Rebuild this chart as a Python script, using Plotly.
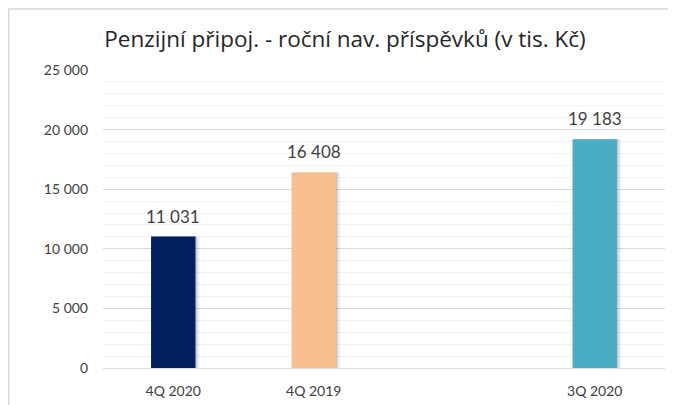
import plotly.graph_objects as go

categories = ["4Q 2020", "4Q 2019", " ", "3Q 2020"]
values = [11031, 16408, None, 19183]
bar_colors = ["#002060", "#F8BF8E", "#FFFFFF", "#4BACC6"]
y_tick_vals = [0, 5000, 10000, 15000, 20000, 25000]
y_tick_text = ["0", "5 000", "10 000", "15 000", "20 000", "25 000"]
title_text = "Penzijní připoj. - roční nav. příspěvků (v tis. Kč)"

FONT = "Lato"
BAR_W = 0.316

# page body adds an 8px margin; figure is sized so the whole page is 676x405
W, H = 668, 397
ML, MR, MT, MB = 95, 11, 62, 37
PW, PH = W - ML - MR, H - MT - MB

fig = go.Figure()

# soft shadow layers (same data, shifted slightly right)
for shift, alpha in [(0.030, 0.06), (0.018, 0.08), (0.008, 0.10)]:
    fig.add_trace(go.Bar(
        x=categories, y=values, width=BAR_W, offset=-BAR_W / 2 + shift,
        marker=dict(color=f"rgba(0,0,0,{alpha})", line=dict(width=0)),
        hoverinfo="skip", showlegend=False,
    ))

fig.add_trace(go.Bar(
    x=categories, y=values, width=BAR_W, offset=-BAR_W / 2,
    marker=dict(color=bar_colors, line=dict(width=0)),
    showlegend=False,
))

for c, v in zip(categories, values):
    if v is None:
        continue
    fig.add_annotation(
        x=c, y=v, xref="x", yref="y",
        text=f"{v:,}".replace(",", " "),
        showarrow=False, yanchor="bottom", yshift=8,
        font=dict(family=FONT, size=17, color="#404040"),
    )

fig.update_layout(
    width=W, height=H,
    margin=dict(l=ML, r=MR, t=MT, b=MB, autoexpand=False),
    paper_bgcolor="white", plot_bgcolor="white",
    barmode="overlay",
    title=dict(text=title_text, x=337 / W, xanchor="center",
               y=1 - 31 / H, yanchor="middle",
               font=dict(family="Open Sans", size=22.5, color="#262626")),
    xaxis=dict(
        type="category", categoryorder="array", categoryarray=categories,
        range=[-0.5, 3.5], showgrid=False, zeroline=False, showline=False,
        ticks="", ticklabelstandoff=13,
        tickfont=dict(family=FONT, size=14, color="#404040"),
        fixedrange=True,
    ),
    yaxis=dict(
        range=[0, 25000], tickvals=y_tick_vals, ticktext=y_tick_text,
        showgrid=True, gridcolor="#D9D9D9", gridwidth=1,
        zeroline=True, zerolinecolor="#D9D9D9", zerolinewidth=1,
        showline=False, ticks="", ticklabelstandoff=14,
        tickfont=dict(family=FONT, size=14, color="#404040"),
        minor=dict(dtick=1000, tick0=0, showgrid=True, gridcolor="#F2F2F2", gridwidth=1),
        fixedrange=True,
    ),
    shapes=[dict(
        type="rect", xref="paper", yref="paper",
        x0=(0.75 - ML) / PW, x1=(W + 20 - ML) / PW,
        y0=-0.5, y1=(H - 1 - MB) / PH,
        line=dict(color="#D9D9D9", width=1.5), fillcolor="rgba(0,0,0,0)",
        layer="below",
    )],
)

fig.write_html("out.html")
